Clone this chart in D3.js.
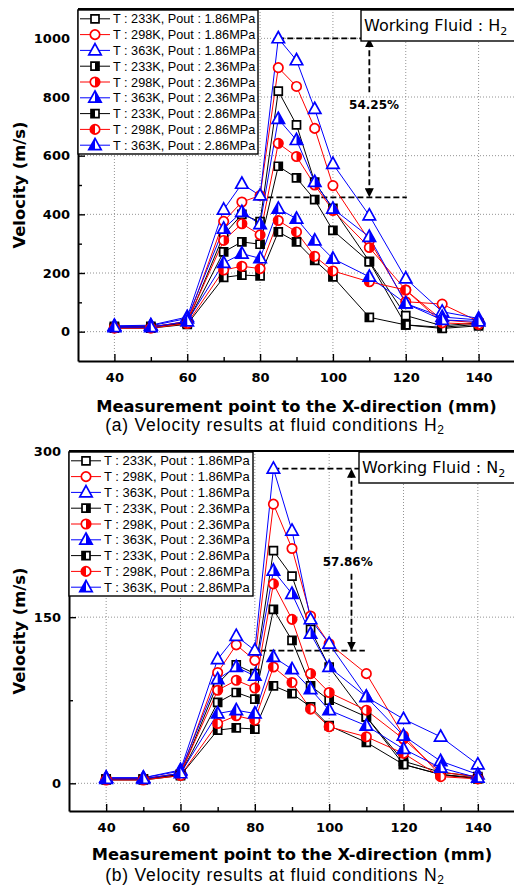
<!DOCTYPE html>
<html>
<head>
<meta charset="utf-8">
<script src="https://cdn.jsdelivr.net/npm/d3@7"></script>
<style>
  body { margin: 0; background: #fff; }
  svg { display: block; }
</style>
</head>
<body>
<svg id="fig" width="514" height="888"></svg>
<script>
// measurement points (mm)
const positions = [40, 50, 60, 70, 75, 80, 85, 90, 95, 100, 110, 120, 130, 140];

const seriesLabels = [
  'T : 233K, Pout : 1.86MPa', 'T : 298K, Pout : 1.86MPa', 'T : 363K, Pout : 1.86MPa',
  'T : 233K, Pout : 2.36MPa', 'T : 298K, Pout : 2.36MPa', 'T : 363K, Pout : 2.36MPa',
  'T : 233K, Pout : 2.86MPa', 'T : 298K, Pout : 2.86MPa', 'T : 363K, Pout : 2.86MPa'
];
const seriesColors = ['#000', '#f00', '#00f', '#000', '#f00', '#00f', '#000', '#f00', '#00f'];
const seriesShapes = ['square', 'circle', 'triangle', 'square', 'circle', 'triangle', 'square', 'circle', 'triangle'];
const seriesHalf = ['none', 'none', 'none', 'right', 'right', 'right', 'left', 'left', 'left'];

// (a) H2 velocities (m/s)
const h2_233K_186 = [18, 18, 30, 330, 400, 375, 820, 705, 510, 420, 240, 55, 20, 30];
const h2_298K_186 = [15, 15, 35, 376, 442, 464, 900, 836, 693, 498, 311, 102, 94, 35];
const h2_363K_186 = [20, 22, 50, 416, 504, 464, 1000, 925, 759, 572, 396, 181, 68, 45];
const h2_233K_236 = [15, 15, 30, 272, 306, 298, 564, 524, 450, 345, 238, 23, 15, 25];
const h2_298K_236 = [15, 15, 35, 311, 368, 330, 642, 597, 500, 413, 287, 142, 40, 30];
const h2_363K_236 = [18, 20, 45, 351, 408, 366, 725, 653, 510, 419, 323, 96, 50, 40];
const h2_233K_286 = [12, 12, 25, 185, 193, 190, 340, 306, 243, 187, 49, 23, 11, 20];
const h2_298K_286 = [12, 12, 28, 210, 223, 215, 379, 340, 257, 207, 170, 142, 30, 25];
const h2_363K_286 = [15, 15, 35, 234, 266, 250, 419, 385, 311, 249, 187, 96, 40, 35];

// (b) N2 velocities (m/s)
const n2_233K_186 = [4, 4, 8, 90, 107, 99, 210, 187, 139, 105, 60, 17, 8, 5];
const n2_298K_186 = [4, 4, 9, 100, 125, 111, 252, 212, 151, 126, 99, 43, 7, 5];
const n2_363K_186 = [5, 5, 12, 112, 133, 120, 284, 228, 148, 126, 78, 58, 42, 17];
const n2_233K_236 = [4, 4, 8, 73, 82, 76, 157, 129, 88, 75, 60, 20, 10, 6];
const n2_298K_236 = [4, 4, 9, 84, 93, 86, 180, 148, 99, 82, 66, 40, 10, 6];
const n2_363K_236 = [5, 5, 11, 94, 105, 97, 192, 171, 135, 105, 78, 43, 20, 8];
const n2_233K_286 = [3, 3, 7, 48, 50, 49, 88, 81, 69, 52, 37, 17, 8, 4];
const n2_298K_286 = [3, 3, 7, 54, 61, 57, 105, 91, 67, 51, 42, 27, 6, 4];
const n2_363K_286 = [4, 4, 9, 63, 66, 63, 114, 103, 85, 66, 52, 31, 14, 5];

const xTicks = [40, 60, 80, 100, 120, 140];
const xMinorTicks = [50, 70, 90, 110, 130];
const h2Ticks = [0, 200, 400, 600, 800, 1000];
const h2MinorTicks = [100, 300, 500, 700, 900];
const n2Ticks = [0, 150, 300];
const n2MinorTicks = [75, 225];

// peak and reduced level for the dashed arrows
const h2Drop = [1000, 457.5];
const n2Drop = [284, 119.7];

const svg = d3.select('#fig');
const BOLD = 'DejaVu Sans, Verdana, sans-serif';
const ARIAL = 'Liberation Sans, Arial, sans-serif';

// arrow head
svg.append('defs').append('marker')
  .attr('id', 'arr')
  .attr('viewBox', '0 0 10 10')
  .attr('refX', 9).attr('refY', 5)
  .attr('markerWidth', 5).attr('markerHeight', 5)
  .attr('orient', 'auto-start-reverse')
  .append('path').attr('d', 'M0,0 L10,5 L0,10 Z').attr('fill', '#000');

function drawMarker(g, shape, half, color, cx, cy) {
  const m = g.append('g').attr('transform', `translate(${cx},${cy})`);
  let outline, halfPath;
  if (shape === 'square') {
    const s = 4;
    outline = `M${-s},${-s}H${s}V${s}H${-s}Z`;
    halfPath = half === 'right' ? `M0,${-s}H${s}V${s}H0Z` : `M${-s},${-s}H0V${s}H${-s}Z`;
  } else if (shape === 'circle') {
    const r = 4.7;
    outline = `M${-r},0A${r},${r} 0 1 1 ${r},0A${r},${r} 0 1 1 ${-r},0Z`;
    halfPath = half === 'right'
      ? `M0,${-r}A${r},${r} 0 0 1 0,${r}Z`
      : `M0,${-r}A${r},${r} 0 0 0 0,${r}Z`;
  } else {
    const t = -6.8, b = 4.4, w = 6.2;
    outline = `M0,${t}L${w},${b}L${-w},${b}Z`;
    halfPath = half === 'right' ? `M0,${t}L${w},${b}L0,${b}Z` : `M0,${t}L${-w},${b}L0,${b}Z`;
  }
  m.append('path').attr('d', outline).attr('fill', '#fff');
  if (half !== 'none') m.append('path').attr('d', halfPath).attr('fill', color);
  m.append('path').attr('d', outline).attr('fill', 'none')
    .attr('stroke', color).attr('stroke-width', 1.7).attr('stroke-linejoin', 'miter');
}

function styleAxis(sel) {
  sel.select('.domain').attr('stroke-width', 2);
  sel.selectAll('.tick line').attr('stroke-width', 1.4);
  sel.selectAll('.tick text')
    .attr('font-family', BOLD).attr('font-weight', 'bold').attr('font-size', 13).attr('fill', '#000');
}

function drawChart(cfg) {
  const x = d3.scaleLinear().domain([30, 150]).range([cfg.left, cfg.right]);
  const y = d3.scaleLinear().domain(cfg.yDomain).range([cfg.bottom, cfg.top]);
  const g = svg.append('g');

  // dotted grid
  g.append('g').selectAll('line').data(xTicks).join('line')
    .attr('x1', d => x(d)).attr('x2', d => x(d))
    .attr('y1', cfg.top).attr('y2', cfg.bottom)
    .attr('stroke', '#777').attr('stroke-width', 0.8).attr('stroke-dasharray', '1,2');
  g.append('g').selectAll('line').data(cfg.yTicks).join('line')
    .attr('x1', cfg.left).attr('x2', cfg.right)
    .attr('y1', d => y(d)).attr('y2', d => y(d))
    .attr('stroke', '#777').attr('stroke-width', 0.8).attr('stroke-dasharray', '1,2');

  // axes, ticks pointing inward
  g.append('g').attr('transform', `translate(0,${cfg.bottom})`)
    .call(d3.axisBottom(x).tickValues(xTicks).tickFormat(d3.format('d'))
      .tickSizeInner(-7).tickSizeOuter(0).tickPadding(11.5))
    .call(styleAxis);
  g.append('g').attr('transform', `translate(0,${cfg.bottom})`)
    .call(d3.axisBottom(x).tickValues(xMinorTicks).tickSize(-4).tickFormat(''))
    .call(a => a.select('.domain').remove())
    .call(a => a.selectAll('.tick line').attr('stroke-width', 1.4));
  g.append('g').attr('transform', `translate(${cfg.left},0)`)
    .call(d3.axisLeft(y).tickValues(cfg.yTicks).tickFormat(d3.format('d'))
      .tickSizeInner(-7).tickSizeOuter(0).tickPadding(8))
    .call(styleAxis);
  g.append('g').attr('transform', `translate(${cfg.left},0)`)
    .call(d3.axisLeft(y).tickValues(cfg.yMinor).tickSize(-4).tickFormat(''))
    .call(a => a.select('.domain').remove())
    .call(a => a.selectAll('.tick line').attr('stroke-width', 1.4));
  g.append('line')
    .attr('x1', cfg.left).attr('x2', cfg.right).attr('y1', cfg.top).attr('y2', cfg.top)
    .attr('stroke', '#000').attr('stroke-width', 2);

  // dashed reduction arrows
  const a = cfg.annot;
  const dash = sel => sel.attr('stroke', '#000').attr('stroke-width', 1.8).attr('stroke-dasharray', '6,3').attr('fill', 'none');
  g.append('line').attr('x1', x(85)).attr('x2', x(a.xEnd))
    .attr('y1', y(cfg.drop[0])).attr('y2', y(cfg.drop[0])).call(dash);
  g.append('line').attr('x1', x(a.xLow)).attr('x2', x(a.xEnd))
    .attr('y1', y(cfg.drop[1])).attr('y2', y(cfg.drop[1])).call(dash);
  const ty = y(a.labelAt);
  g.append('line').attr('x1', x(a.xArrow)).attr('x2', x(a.xArrow))
    .attr('y1', ty - 12).attr('y2', y(cfg.drop[0]) + 1).call(dash)
    .attr('marker-end', 'url(#arr)');
  g.append('line').attr('x1', x(a.xArrow)).attr('x2', x(a.xArrow))
    .attr('y1', ty + 12).attr('y2', y(cfg.drop[1]) - 1).call(dash)
    .attr('marker-end', 'url(#arr)');
  g.append('text').attr('x', x(a.xText)).attr('y', ty).attr('dy', '0.35em')
    .attr('text-anchor', 'middle')
    .attr('font-family', BOLD).attr('font-weight', 'bold').attr('font-size', 12)
    .text(a.label);

  // series
  const line = d3.line().x((d, i) => x(positions[i])).y(d => y(d));
  cfg.series.forEach((vals, k) => {
    g.append('path').datum(vals).attr('d', line)
      .attr('fill', 'none').attr('stroke', seriesColors[k]).attr('stroke-width', 1);
  });
  cfg.series.forEach((vals, k) => {
    const mg = g.append('g');
    vals.forEach((v, i) => drawMarker(mg, seriesShapes[k], seriesHalf[k], seriesColors[k], x(positions[i]), y(v)));
  });

  // legend
  const lg = g.append('g').attr('transform', `translate(${cfg.left},${cfg.top})`);
  lg.append('rect').attr('x', 0).attr('y', 1).attr('width', cfg.legendW).attr('height', 144)
    .attr('fill', '#fff').attr('stroke', '#000').attr('stroke-width', 1.4);
  seriesLabels.forEach((lab, k) => {
    const ry = 9.8 + k * 15.8;
    lg.append('line').attr('x1', 2).attr('x2', 32).attr('y1', ry).attr('y2', ry)
      .attr('stroke', seriesColors[k]).attr('stroke-width', 1);
    drawMarker(lg, seriesShapes[k], seriesHalf[k], seriesColors[k], 17, ry);
    lg.append('text').attr('x', 35).attr('y', ry).attr('dy', '0.36em')
      .attr('font-family', ARIAL).attr('font-size', cfg.legendFont).text(lab);
  });

  // working fluid box
  const fb = g.append('g');
  fb.append('rect').attr('x', cfg.boxX).attr('y', cfg.top + 1).attr('width', cfg.right - cfg.boxX + 5).attr('height', 31)
    .attr('fill', '#fff').attr('stroke', '#000').attr('stroke-width', 1.4);
  const ft = fb.append('text').attr('x', cfg.boxX + 3).attr('y', cfg.top + 22)
    .attr('font-family', BOLD).attr('font-size', 16).attr('fill', '#000');
  ft.append('tspan').text('Working Fluid : ' + cfg.fluid[0]);
  ft.append('tspan').attr('dy', 4).attr('font-size', 11).text(cfg.fluid[1]);

  // titles
  g.append('text')
    .attr('transform', `translate(19,${(cfg.top + cfg.bottom) / 2}) rotate(-90)`)
    .attr('dy', '0.35em').attr('text-anchor', 'middle')
    .attr('font-family', BOLD).attr('font-weight', 'bold').attr('font-size', 16.4)
    .text('Velocity (m/s)');
  g.append('text')
    .attr('x', (cfg.left + cfg.right) / 2).attr('y', cfg.bottom + cfg.titleOffset)
    .attr('text-anchor', 'middle')
    .attr('font-family', BOLD).attr('font-weight', 'bold').attr('font-size', 16.3)
    .text('Measurement point to the X-direction (mm)');
  const cap = g.append('text')
    .attr('x', 275).attr('y', cfg.bottom + cfg.capOffset)
    .attr('text-anchor', 'middle')
    .attr('font-family', ARIAL).attr('font-size', 17.5).attr('letter-spacing', 0.75);
  cap.append('tspan').text(cfg.caption[0]);
  cap.append('tspan').attr('dy', 3).attr('font-size', 12).text(cfg.caption[1]);
}

drawChart({
  series: [h2_233K_186, h2_298K_186, h2_363K_186, h2_233K_236, h2_298K_236, h2_363K_236, h2_233K_286, h2_298K_286, h2_363K_286],
  yDomain: [-100, 1100], yTicks: h2Ticks, yMinor: h2MinorTicks,
  left: 78, right: 515, top: 9, bottom: 361,
  legendW: 180, legendFont: 12.7, boxX: 361,
  fluid: ['H', '2'],
  caption: ['(a) Velocity results at fluid conditions H', '2'], titleOffset: 51, capOffset: 70,
  drop: h2Drop,
  annot: { xEnd: 120.3, xLow: 82, xArrow: 110, xText: 111.3, labelAt: 775, label: '54.25%' }
});

drawChart({
  series: [n2_233K_186, n2_298K_186, n2_363K_186, n2_233K_236, n2_298K_236, n2_363K_236, n2_233K_286, n2_298K_286, n2_363K_286],
  yDomain: [-25, 300], yTicks: n2Ticks, yMinor: n2MinorTicks,
  left: 69, right: 515, top: 451, bottom: 811,
  legendW: 184, legendFont: 13, boxX: 359,
  fluid: ['N', '2'],
  caption: ['(b) Velocity results at fluid conditions N', '2'], titleOffset: 49, capOffset: 70,
  drop: n2Drop,
  annot: { xEnd: 109.6, xLow: 81.5, xArrow: 106, xText: 105, labelAt: 200, label: '57.86%' }
});
</script>
</body>
</html>
